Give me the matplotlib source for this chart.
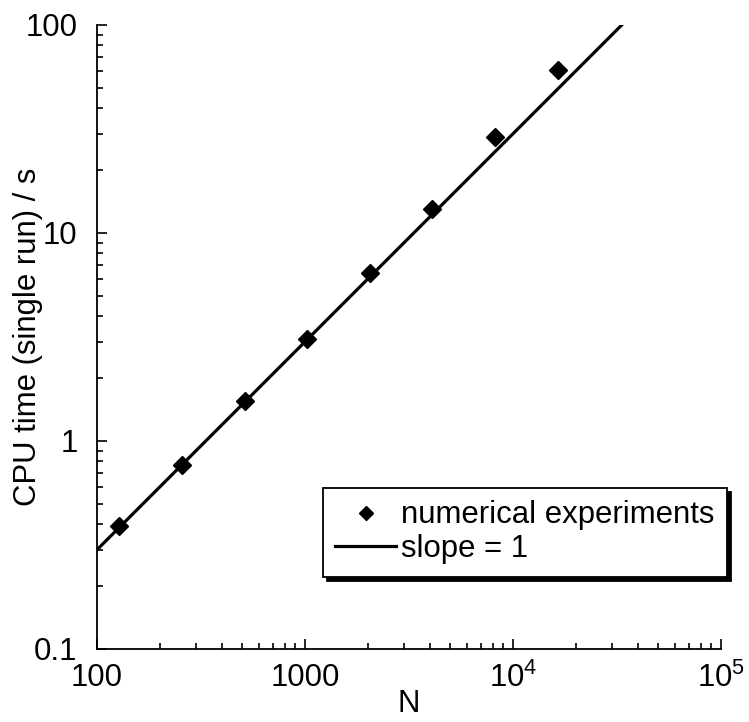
import matplotlib.pyplot as plt

plt.rcParams['font.family'] = ['Liberation Sans', 'DejaVu Sans']
plt.rcParams['mathtext.fontset'] = 'custom'
plt.rcParams['mathtext.rm'] = 'Liberation Sans'
plt.rcParams['mathtext.it'] = 'Liberation Sans'

# data
n_runs = [128, 256, 512, 1024, 2048, 4096, 8192, 16384]
cpu_time = [0.39, 0.765, 1.55, 3.1, 6.4, 13.0, 29.0, 61.0]

slope_n = [100, 33400]
slope_t = [0.3, 100.2]

x_ticks = [100, 1000, 1e4, 1e5]
x_labels = ['100', '1000', r'$10^4$', r'$10^5$']
y_ticks = [0.1, 1, 10, 100]
y_labels = ['0.1', '1', '10', '100']

fs = 22.4

fig = plt.figure(figsize=(7.49, 7.22), dpi=100)
ax = fig.add_axes([97 / 749, 1 - 649 / 722, 624 / 749, 624 / 722])

ax.plot(n_runs, cpu_time, linestyle='none', marker='D', color='black',
        markersize=9, label='numerical experiments', zorder=3)
ax.plot(slope_n, slope_t, color='black', linewidth=2.3,
        label='slope = 1', zorder=2)

ax.set_xscale('log')
ax.set_yscale('log')
ax.set_xlim(100, 1e5)
ax.set_ylim(0.1, 100)

ax.set_xticks(x_ticks)
ax.set_xticklabels(x_labels)
ax.set_yticks(y_ticks)
ax.set_yticklabels(y_labels)

ax.spines['top'].set_visible(False)
ax.spines['right'].set_visible(False)
for s in ['left', 'bottom']:
    ax.spines[s].set_linewidth(1.3)

ax.tick_params(which='major', direction='in', length=7.5, width=1.2,
               labelsize=fs)
ax.tick_params(which='minor', direction='in', length=4, width=1.2)
ax.tick_params(axis='x', which='major', pad=10)
ax.tick_params(axis='y', which='major', pad=14)

ax.set_xlabel('N', fontsize=fs)
ax.set_ylabel('CPU time (single run) / s', fontsize=fs)
ax.xaxis.set_label_coords(0.5, -0.064)
ax.yaxis.set_label_coords(-0.087, 0.5)

leg = ax.legend(loc='upper left', bbox_to_anchor=(323 / 749, 1 - 488 / 722),
                bbox_transform=fig.transFigure, borderaxespad=0,
                fontsize=fs, frameon=True, fancybox=False,
                shadow={'ox': 3, 'oy': -3, 'color': 'black', 'alpha': 1},
                markerscale=0.75, handlelength=1.95, handletextpad=0.15,
                labelspacing=0.12, borderpad=0.4)
leg.get_frame().set_edgecolor('black')
leg.get_frame().set_linewidth(1.3)
leg.get_frame().set_alpha(1)

plt.savefig('out.png', dpi=100)
